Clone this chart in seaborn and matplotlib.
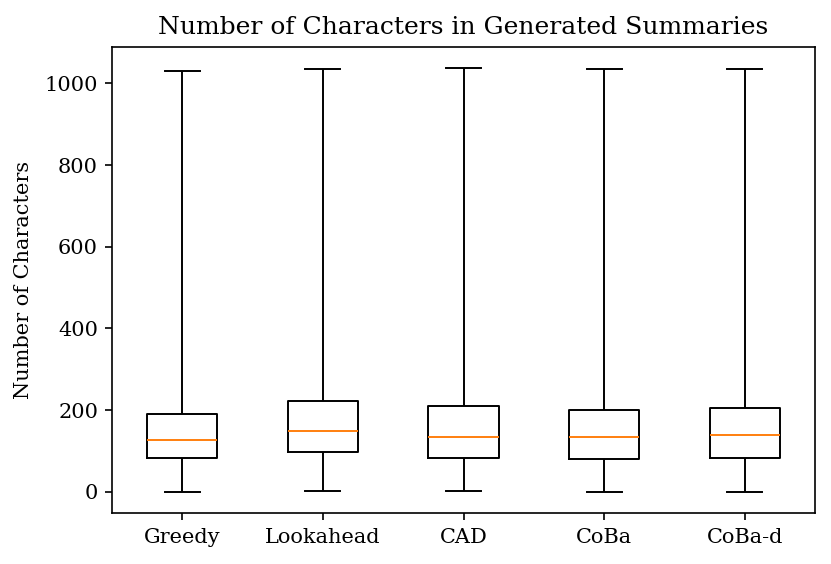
import matplotlib
matplotlib.use("Agg")
import matplotlib.pyplot as plt
import seaborn as sns
import pandas as pd

methods = ["Greedy", "Lookahead", "CAD", "CoBa", "CoBa-d"]
mins = [0, 2, 3, 0, 0]
q1s = [84, 97, 84, 80, 84]
medians = [128, 149, 133, 133, 138]
q3s = [191, 223, 209, 201, 205]
maxs = [1030, 1035, 1037, 1035, 1035]

rows = []
for m, a, b, c, d, e in zip(methods, mins, q1s, medians, q3s, maxs):
    for v in (a, b, c, d, e):
        rows.append({"method": m, "chars": v})
df = pd.DataFrame(rows)

plt.rcParams["font.family"] = ["DejaVu Serif"]
fig, ax = plt.subplots(figsize=(8.31, 5.64), dpi=100)
fig.subplots_adjust(left=112/831, right=815/831, top=1-47/564, bottom=1-513/564)

sns.boxplot(data=df, x="method", y="chars", order=methods, whis=(0, 100),
            fill=False, color="black", width=0.5, linewidth=1.4,
            medianprops=dict(color="#ff7f0e"), ax=ax)

ax.set_xlabel("")
ax.set_ylabel("Number of Characters", fontsize=15, labelpad=8)
ax.set_title("Number of Characters in Generated Summaries", fontsize=18, pad=9)
ax.tick_params(labelsize=15, length=5, width=1.2)
ax.tick_params(axis="x", pad=6)
ax.tick_params(axis="y", pad=5)
for s in ax.spines.values():
    s.set_visible(True)
    s.set_color("black")
    s.set_linewidth(1.2)
fig.savefig("out.png", dpi=100)
